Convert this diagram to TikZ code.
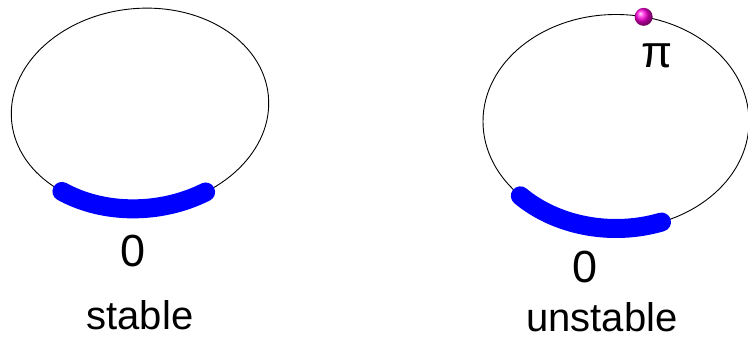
\documentclass[tikz,border=0pt]{standalone}
\usepackage{fontspec}
\setmainfont{Liberation Sans}
\usepackage{tikz}
\usetikzlibrary{positioning}

\begin{document}
\begin{tikzpicture}[x=1pt,y=1pt,
  ring/.style={draw,line width=0.9pt},
  band/.style={draw=blue,line width=19pt,line cap=round},
  val/.style={inner sep=0pt,anchor=base,font=\fontsize{45}{54}\selectfont},
  lbl/.style={inner sep=0pt,anchor=base,font=\fontsize{40}{48}\selectfont}]
\useasboundingbox (0,0) rectangle (748,-339);
% stable circle
\begin{scope}[shift={(140,-108.5)},rotate=6]
\draw[ring] (0,0) ellipse [x radius=129,y radius=100];
\draw[band] (228:129 and 100) arc [start angle=228,end angle=296,x radius=129,y radius=100];
\end{scope}
\node[val] (zeroL) at (133.5,-267) {0};
\node[lbl] (stab) at (140,-330) {stable};
% unstable circle
\begin{scope}[shift={(616,-121.5)}]
\draw[ring] (0,0) ellipse [x radius=133,y radius=107];
\draw[band] (224:133 and 107) arc [start angle=224,end angle=290,x radius=133,y radius=107];
\shade[ball color=magenta!85!red] (78:133 and 107) circle [radius=9];
\end{scope}
\node[val] (piR) at (657,-68) {π};
\node[val] (zeroR) at (585.5,-283) {0};
\node[lbl] (unstab) at (602,-332) {unstable};
\end{tikzpicture}
\end{document}
